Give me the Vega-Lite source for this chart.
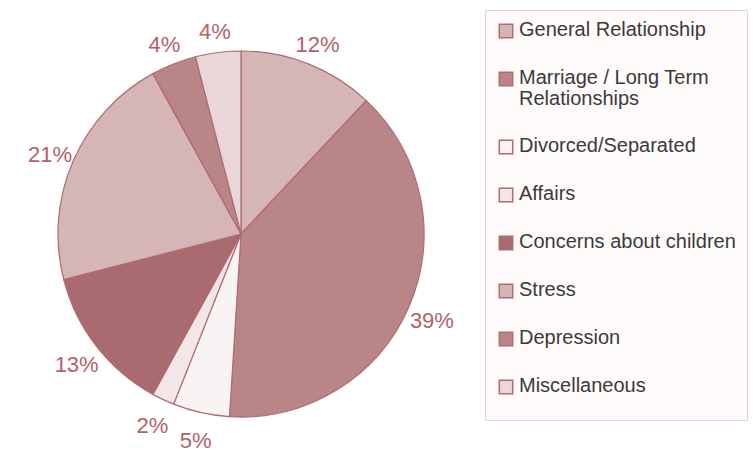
{
  "$schema": "https://vega.github.io/schema/vega-lite/v6.json",
  "width": 482,
  "height": 444,
  "padding": {"top": 12, "left": 0, "right": 272, "bottom": 0},
  "autosize": {"type": "none"},
  "background": "white",
  "view": {"stroke": null},
  "data": {
    "values": [
      {"i": 1, "cat": "General Relationship", "pct": 12, "label": "12%"},
      {"i": 2, "cat": "Marriage / Long Term Relationships", "pct": 39, "label": "39%"},
      {"i": 3, "cat": "Divorced/Separated", "pct": 5, "label": "5%"},
      {"i": 4, "cat": "Affairs", "pct": 2, "label": "2%"},
      {"i": 5, "cat": "Concerns about children", "pct": 13, "label": "13%"},
      {"i": 6, "cat": "Stress", "pct": 21, "label": "21%"},
      {"i": 7, "cat": "Depression", "pct": 4, "label": "4%"},
      {"i": 8, "cat": "Miscellaneous", "pct": 4, "label": "4%"}
    ]
  },
  "encoding": {
    "theta": {"field": "pct", "type": "quantitative", "stack": true},
    "order": {"field": "i", "type": "quantitative"}
  },
  "layer": [
    {
      "mark": {"type": "arc", "outerRadius": 183, "stroke": "#b06a72", "strokeWidth": 1.2},
      "encoding": {
        "color": {
          "field": "cat",
          "type": "nominal",
          "sort": null,
          "scale": {
            "domain": ["General Relationship", "Marriage / Long Term Relationships", "Divorced/Separated", "Affairs", "Concerns about children", "Stress", "Depression", "Miscellaneous"],
            "range": ["#d5b5b5", "#b98587", "#f9f4f4", "#f2e6e7", "#a96a70", "#d5b5b5", "#b98587", "#e8d6d8"]
          },
          "legend": {
            "orient": "none",
            "legendX": 485,
            "legendY": -2,
            "title": " ",
            "titleOrient": "bottom",
            "titleFontSize": 4,
            "titlePadding": 8,
            "padding": 11,
            "strokeColor": "#ead2d2",
            "fillColor": "#fffbfb",
            "symbolType": "square",
            "symbolSize": 180,
            "symbolStrokeColor": "#b06a72",
            "symbolStrokeWidth": 1.5,
            "symbolOpacity": 1,
            "labelFont": "Liberation Sans",
            "labelFontSize": 20,
            "labelColor": "#3a3a3a",
            "labelOffset": 3,
            "labelLimit": 400,
            "labelBaseline": "top",
            "labelExpr": "datum.label == 'Marriage / Long Term Relationships' ? ['Marriage / Long Term', 'Relationships'] : datum.label + '\u00a0\u00a0\u00a0\u00a0\u00a0\u00a0'",
            "rowPadding": 27,
            "encode": {
              "labels": {"update": {"dy": {"value": -11}, "lineHeight": {"value": 21}}}
            }
          }
        }
      }
    },
    {
      "mark": {"type": "text", "radius": 208, "dy": 4, "font": "Liberation Sans", "fontSize": 22, "fill": "#b0626a"},
      "encoding": {
        "detail": {"field": "cat", "type": "nominal"},
        "text": {"field": "label", "type": "nominal"}
      }
    }
  ]
}
